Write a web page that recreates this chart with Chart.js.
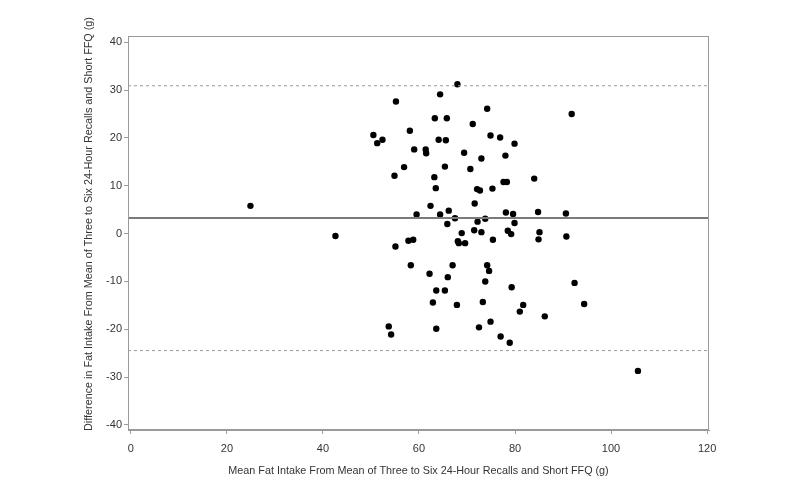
<!DOCTYPE html>
<html>
<head>
<meta charset="utf-8">
<script src="https://cdn.jsdelivr.net/npm/chart.js@4/dist/chart.umd.min.js"></script>
<style>
  html, body { margin: 0; padding: 0; background: #fff; }
  #wrap { width: 800px; height: 489px; }
</style>
</head>
<body>
<div id="wrap"><canvas id="myChart" width="800" height="489"></canvas></div>
<script>
// mean intake (x) and difference (y)
const meanIntake = [
  24.9, 42.6, 50.5, 51.3, 52.4, 55.2, 58.1, 59.0, 61.4, 61.5,
  56.9, 54.9, 63.3, 65.8, 64.4, 68.0, 64.1, 65.6, 65.4, 63.2,
  63.5, 62.4, 59.5, 64.4, 66.2, 67.5, 65.9, 68.9, 71.2, 74.2,
  69.4, 73.0, 74.9, 76.9, 79.9, 78.0, 70.7, 77.6, 78.3, 72.1,
  72.7, 75.3, 71.6, 84.0, 78.1, 79.6, 84.8, 72.2, 73.8, 79.9,
  71.5, 73.0, 78.5, 79.2, 85.1, 84.9, 75.4, 68.1, 68.3, 69.6,
  55.1, 57.8, 58.8, 58.3, 67.0, 74.2, 74.6, 62.2, 66.0, 73.8,
  79.3, 63.6, 65.4, 62.9, 67.9, 73.3, 81.7, 81.0, 86.2, 53.7,
  54.2, 63.6, 72.5, 74.9, 77.0, 78.9, 91.8, 90.6, 90.7, 92.4,
  94.4, 105.6
];
const difference = [
  5.8, -0.5, 20.6, 18.9, 19.6, 27.6, 21.5, 17.6, 17.6, 16.8,
  13.9, 12.1, 24.1, 24.1, 29.1, 31.2, 19.6, 19.5, 14.0, 11.8,
  9.5, 5.8, 4.0, 4.0, 4.8, 3.2, 2.0, 0.1, 22.9, 26.1,
  16.9, 15.7, 20.5, 20.1, 18.8, 16.3, 13.5, 10.8, 10.8, 9.3,
  9.0, 9.4, 6.3, 11.5, 4.4, 4.1, 4.5, 2.5, 3.1, 2.2,
  0.7, 0.3, 0.6, -0.1, 0.3, -1.2, -1.3, -1.6, -2.0, -2.0,
  -2.7, -1.5, -1.3, -6.6, -6.6, -6.6, -7.8, -8.4, -9.1, -10.0,
  -11.2, -11.9, -11.9, -14.4, -14.9, -14.3, -14.9, -16.3, -17.3, -19.4,
  -21.1, -19.9, -19.6, -18.4, -21.5, -22.8, 25.0, 4.2, -0.6, -10.3,
  -14.7, -28.7
];

// bias and limits of agreement
const meanDiff = 3.25;
const upperLimit = 30.9;
const lowerLimit = -24.45;

const xTicks = [0, 20, 40, 60, 80, 100, 120];
const yTicks = [-40, -30, -20, -10, 0, 10, 20, 30, 40];
const xRange = [-0.6, 120.4];
const yRange = [-41.05, 41.3];

const xTitle = "Mean Fat Intake From Mean of Three to Six 24-Hour Recalls and Short FFQ (g)";
const yTitle = "Difference in Fat Intake From Mean of Three to Six 24-Hour Recalls and Short FFQ (g)";

const fontFamily = "'Liberation Sans', Arial, sans-serif";
const tickFont = { family: fontFamily, size: 11 };
const titleFont = { family: fontFamily, size: 10.8 };

function hLine(y) {
  return [{ x: xRange[0], y: y }, { x: xRange[1], y: y }];
}

// box round the plot area, plus the y title (sits a bit above centre in the original)
const framePlugin = {
  id: "frame",
  afterDraw(chart) {
    const a = chart.chartArea;
    const c = chart.ctx;
    c.save();
    c.strokeStyle = "#9a9a9a";
    c.lineWidth = 1;
    c.strokeRect(a.left + 0.5, a.top + 0.5, a.right - a.left - 1, a.bottom - a.top - 1);

    c.translate(89, 224);
    c.rotate(-Math.PI / 2);
    c.fillStyle = "#333";
    c.font = titleFont.size + "px " + fontFamily;
    c.textAlign = "center";
    c.textBaseline = "middle";
    c.fillText(yTitle, 0, 0);
    c.restore();
  }
};

new Chart(document.getElementById("myChart"), {
  type: "scatter",
  data: {
    datasets: [
      {
        type: "line",
        data: hLine(upperLimit),
        borderColor: "#9a9a9a",
        borderWidth: 1,
        borderDash: [3, 3],
        pointRadius: 0
      },
      {
        type: "line",
        data: hLine(lowerLimit),
        borderColor: "#9a9a9a",
        borderWidth: 1,
        borderDash: [3, 3],
        pointRadius: 0
      },
      {
        type: "line",
        data: hLine(meanDiff),
        borderColor: "#7a7a7a",
        borderWidth: 2,
        pointRadius: 0
      },
      {
        data: meanIntake.map((x, i) => ({ x: x, y: difference[i] })),
        backgroundColor: "#000",
        borderColor: "#000",
        borderWidth: 0,
        pointRadius: 3.2
      }
    ]
  },
  options: {
    responsive: false,
    animation: false,
    events: [],
    layout: { padding: { left: 0, top: 36, right: 91, bottom: 0 } },
    plugins: {
      legend: { display: false },
      tooltip: { enabled: false }
    },
    scales: {
      x: {
        type: "linear",
        min: xRange[0],
        max: xRange[1],
        afterBuildTicks: (scale) => {
          scale.ticks = xTicks.map((v) => ({ value: v }));
        },
        afterFit: (scale) => {
          scale.height = 59;
        },
        ticks: { color: "#333", font: tickFont, padding: 8, maxRotation: 0 },
        grid: { drawOnChartArea: false, drawTicks: true, tickLength: 4, color: "#9a9a9a" },
        border: { display: true, color: "#9a9a9a" },
        title: {
          display: true,
          text: xTitle,
          color: "#333",
          font: titleFont,
          padding: { top: 0, bottom: 11 }
        }
      },
      y: {
        type: "linear",
        min: yRange[0],
        max: yRange[1],
        afterBuildTicks: (scale) => {
          scale.ticks = yTicks.map((v) => ({ value: v }));
        },
        afterFit: (scale) => {
          scale.width = 128;
        },
        ticks: { color: "#333", font: tickFont, padding: 2 },
        grid: { drawOnChartArea: false, drawTicks: true, tickLength: 4, color: "#9a9a9a" },
        border: { display: true, color: "#9a9a9a" },
        title: { display: false }
      }
    }
  },
  plugins: [framePlugin]
});
</script>
</body>
</html>
